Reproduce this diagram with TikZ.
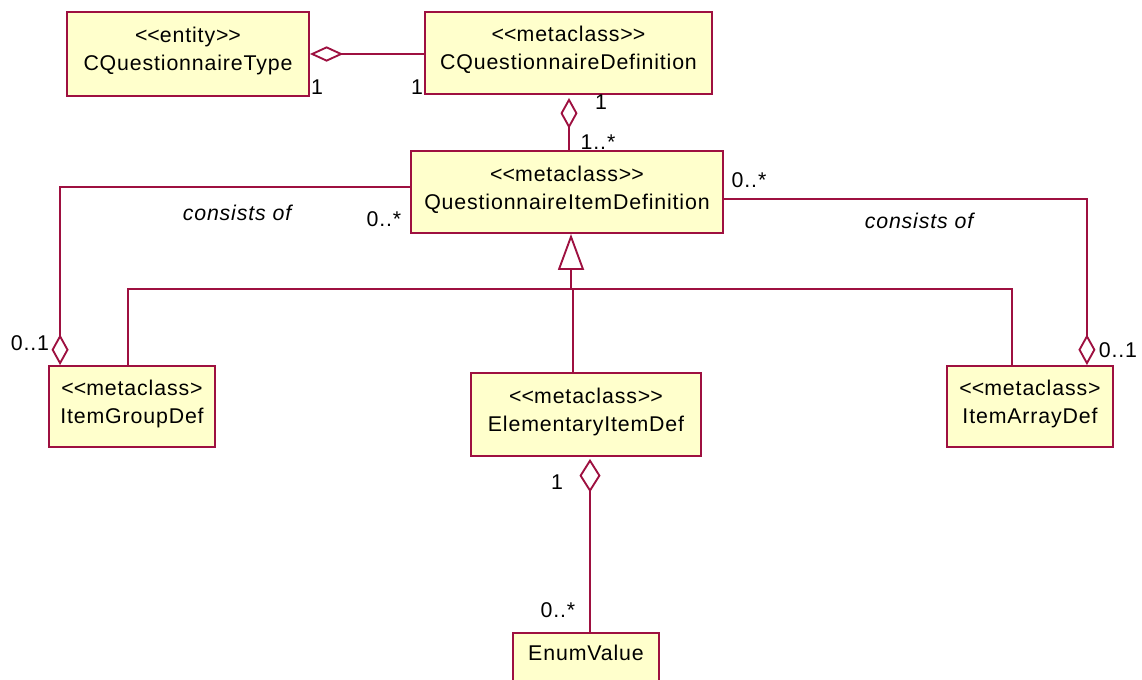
\documentclass[tikz,border=0pt]{standalone}
\usepackage{fontspec}
\setmainfont{Liberation Sans}[LetterSpace=4]
\usetikzlibrary{arrows.meta,calc}
\definecolor{umlred}{RGB}{158,16,64}
\definecolor{umlfill}{RGB}{255,255,204}
\newcommand{\umlsize}{\fontsize{16pt}{21pt}\selectfont}
\newcommand{\lt}{<\kern0pt}
\newcommand{\gt}{>\kern0pt}
\tikzset{
  cls/.style={draw=umlred, fill=umlfill, line width=1.4pt, rectangle, inner sep=0pt},
  txt/.style={align=center, font=\umlsize, inner sep=0pt, yshift=2.25pt},
  lab/.style={font=\umlsize, inner sep=0pt},
  conn/.style={draw=umlred, line width=1.4pt},
  agg/.style={conn, {Diamond[fill=white, length=25pt, width=11.5pt]}-},
  aggv/.style={conn, {Diamond[fill=white, length=23pt, width=12.75pt]}-},
  gen/.style={conn, -{Triangle[fill=white, length=27pt, width=19.5pt]}}
}
\begin{document}
\begin{tikzpicture}[x=0.75pt,y=-0.75pt]
\useasboundingbox (0,0) rectangle (1142,679);
\clip (0,0) rectangle (1142,679);
\fill[white] (0,0) rectangle (1142,679);

% classes
\node[cls, minimum width=181.5pt, minimum height=63pt, label={[txt]center:\lt\lt entity\gt\gt\\CQuestionnaireType}] (cqt) at (188,54) {};
\node[cls, minimum width=215.25pt, minimum height=61.5pt, label={[txt]center:\lt\lt metaclass\gt\gt\\CQuestionnaireDefinition}] (cqd) at (568.5,53) {};
\node[cls, minimum width=234pt, minimum height=61.5pt, label={[txt, yshift=-0.75pt]center:\lt\lt metaclass\gt\gt\\QuestionnaireItemDefinition}] (qid) at (567,192) {};
\node[cls, minimum width=124.5pt, minimum height=60.75pt, label={[txt]center:\lt\lt metaclass\gt\\ItemGroupDef}] (igd) at (132,406.5) {};
\node[cls, minimum width=124.5pt, minimum height=60.75pt, label={[txt]center:\lt\lt metaclass\gt\\ItemArrayDef}] (iad) at (1030,406.5) {};
\node[cls, minimum width=172.5pt, minimum height=62.25pt, label={[txt]center:\lt\lt metaclass\gt\gt\\ElementaryItemDef}] (eid) at (586,414.5) {};
\node[cls, anchor=north, minimum width=109.5pt, text height=21pt, text depth=30pt, font=\umlsize] (ev) at (586,632) {EnumValue};

% CQuestionnaireType -- CQuestionnaireDefinition
\draw[agg] (cqt.east) -- (cqd.west |- cqt.east);
\node[lab] (l1) at (317,87) {1};
\node[lab] (l2) at (417,87) {1};

% CQuestionnaireDefinition -- QuestionnaireItemDefinition
\coordinate (dtop) at ($(cqd.south)+(0.5,3)$);
\draw[aggv] (dtop) -- (dtop |- qid.north);
\node[lab] (l3) at (601,102) {1};
\node[lab] (l4) at (598,142) {1..*};

% QuestionnaireItemDefinition -- ItemGroupDef
\coordinate (igdagg) at ($(igd.north west)+(12,0)$);
\coordinate (qidleft) at ($(qid.west)+(0,-5)$);
\draw[aggv] (igdagg) |- (qidleft);
\node[lab] (l5) at (237,213) {\itshape consists of};
\node[lab] (l6) at (384,219) {0..*};
\node[lab] (l7) at (30,343) {0..1};

% QuestionnaireItemDefinition -- ItemArrayDef
\coordinate (iadagg) at ($(iad.north east)+(-27,0)$);
\coordinate (qidright) at ($(qid.east)+(0,7)$);
\draw[aggv] (iadagg) |- (qidright);
\node[lab] (l8) at (749,180) {0..*};
\node[lab] (l9) at (919,221) {\itshape consists of};
\node[lab] (l10) at (1118,350) {0..1};

% generalization
\coordinate (apex) at ($(qid.south)+(4,0)$);
\coordinate (j) at (571,289);
\draw[gen] (j) -- (apex);
\coordinate (igdtop) at ($(igd.north)+(-4,0)$);
\coordinate (iadtop) at ($(iad.north)+(-18,0)$);
\coordinate (eidtop) at ($(eid.north)+(-13,0)$);
\draw[conn] (igdtop) -- (igdtop |- j) -- (iadtop |- j) -- (iadtop);
\draw[conn] (eidtop) -- (eidtop |- j);

% ElementaryItemDef -- EnumValue
\coordinate (eagg) at ($(eid.south)+(4,2)$);
\draw[{Diamond[fill=white, length=25pt, width=15.75pt]}-, conn] (eagg) -- (eagg |- ev.north);
\node[lab] (l11) at (557,482) {1};
\node[lab] (l12) at (558,610) {0..*};
\end{tikzpicture}
\end{document}
